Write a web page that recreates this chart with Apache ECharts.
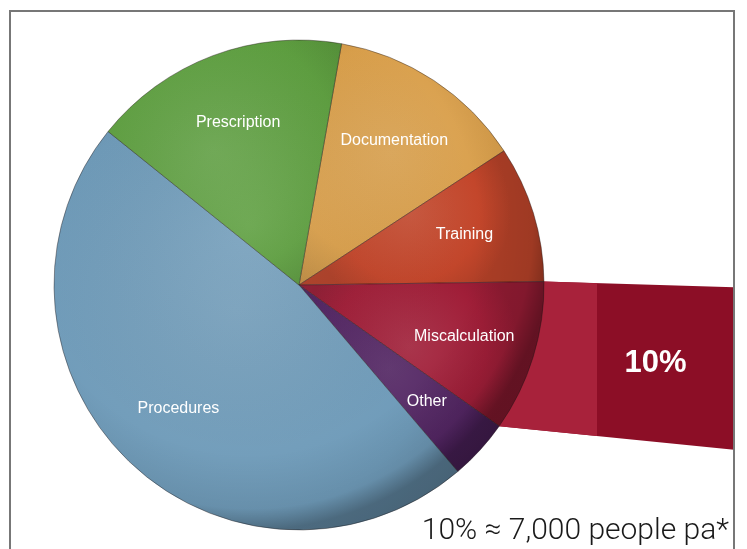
<!DOCTYPE html>
<html>
<head>
<meta charset="utf-8">
<script src="https://cdn.jsdelivr.net/npm/echarts@6/dist/echarts.min.js"></script>
<style>
  html, body { margin: 0; padding: 0; background: #ffffff; }
  #chart { width: 747px; height: 549px; }
</style>
</head>
<body>
<div id="chart"></div>
<script>
// Causes of medication errors, share of all reported errors (%)
const categories = ['Documentation', 'Training', 'Miscalculation', 'Other', 'Procedures', 'Prescription'];
const shares = [13, 9, 10, 4, 47, 17];
const sliceColors = ['#d99f4b', '#c3462b', '#a01e38', '#512361', '#6f9bb9', '#5e9f40'];
const highlightName = 'Miscalculation';
const footnote = '10% \u2248 7,000 people pa*';

const W = 747, H = 549;
const cx = 299, cy = 285, R = 245;
const startAngle = 80;          // degrees, counter-clockwise from 3 o'clock
const labelRadius = 170;
const frameLeft = 10, frameTop = 11, frameRight = 734;
const FONT = '"Liberation Sans", Arial, Helvetica, sans-serif';

function shade(hex, f) {
  const n = parseInt(hex.slice(1), 16);
  let r = (n >> 16) & 255, g = (n >> 8) & 255, b = n & 255;
  const t = f < 0 ? 0 : 255, p = Math.abs(f);
  r = Math.round((t - r) * p + r); g = Math.round((t - g) * p + g); b = Math.round((t - b) * p + b);
  return 'rgb(' + r + ',' + g + ',' + b + ')';
}
function sliceFill(hex) {
  return {
    type: 'radial', x: 0.45, y: 0.45, r: 0.75,
    colorStops: [
      { offset: 0, color: shade(hex, 0.1) },
      { offset: 0.7, color: hex },
      { offset: 1, color: shade(hex, -0.12) }
    ]
  };
}

// Geometry of the highlighted slice, from the pie's own angle layout
const total = shares.reduce((a, b) => a + b, 0);
const hi = categories.indexOf(highlightName);
const before = shares.slice(0, hi).reduce((a, b) => a + b, 0);
const aStart = (startAngle - before / total * 360) * Math.PI / 180;
const aEnd = (startAngle - (before + shares[hi]) / total * 360) * Math.PI / 180;
const p1 = [cx + R * Math.cos(aStart), cy - R * Math.sin(aStart)];
const p4 = [cx + R * Math.cos(aEnd), cy - R * Math.sin(aEnd)];
const topAt = x => p1[1] + 0.03 * (x - p1[0]);
const botAt = x => p4[1] + 0.1 * (x - p4[0]);
const splitX = 597;
const calloutText = Math.round(shares[hi] / total * 100) + '%';
const textX = (splitX + frameRight) / 2 - 10;
const textY = (topAt(textX) + botAt(textX)) / 2;

const chart = echarts.init(document.getElementById('chart'), null, { renderer: 'canvas' });

chart.setOption({
  backgroundColor: '#ffffff',
  animation: false,
  graphic: [
    // callout band coming out of the highlighted slice
    { type: 'polygon', z: 0, silent: true,
      shape: { points: [p1, [frameRight, topAt(frameRight)], [frameRight, botAt(frameRight)], p4] },
      style: { fill: '#8c0e26' } },
    { type: 'polygon', z: 0, silent: true,
      shape: { points: [p1, [splitX, topAt(splitX)], [splitX, botAt(splitX)], p4] },
      style: { fill: '#a8223b' } },
    // soft lighting over the disc
    { type: 'circle', z: 2.5, silent: true,
      shape: { cx: cx, cy: cy, r: R },
      style: { fill: { type: 'radial', x: 0.4, y: 0.38, r: 0.62,
        colorStops: [
          { offset: 0, color: 'rgba(255,255,255,0.08)' },
          { offset: 0.75, color: 'rgba(0,0,0,0)' },
          { offset: 0.93, color: 'rgba(0,0,0,0.08)' },
          { offset: 1, color: 'rgba(0,0,0,0.3)' }
        ] } } },
    { type: 'text', z: 5, silent: true, x: textX, y: textY,
      style: { text: calloutText, fill: '#ffffff', font: 'bold 31px ' + FONT,
               textAlign: 'center', textVerticalAlign: 'middle' } },
    { type: 'text', z: 5, silent: true, x: 729, y: 546,
      style: { text: footnote, fill: '#1a1a1a', font: '300 30px Roboto, ' + FONT,
               textAlign: 'right', textVerticalAlign: 'bottom' } },
    { type: 'polyline', z: 6, silent: true,
      shape: { points: [[frameLeft, H], [frameLeft, frameTop], [frameRight, frameTop], [frameRight, H]] },
      style: { stroke: '#777777', lineWidth: 2, fill: null } }
  ],
  series: [
    {
      type: 'pie',
      z: 2,
      center: [cx, cy],
      radius: [0, R],
      startAngle: startAngle,
      clockwise: true,
      silent: true,
      label: { show: false },
      labelLine: { show: false },
      itemStyle: { borderColor: 'rgba(30,20,20,0.4)', borderWidth: 1 },
      data: categories.map((name, i) => ({
        name: name, value: shares[i],
        itemStyle: { color: sliceFill(sliceColors[i]) }
      }))
    },
    {
      type: 'pie',
      z: 3,
      center: [cx, cy],
      radius: [0, labelRadius * 2],
      startAngle: startAngle,
      clockwise: true,
      silent: true,
      itemStyle: { color: 'rgba(0,0,0,0)', borderWidth: 0 },
      labelLine: { show: false },
      label: {
        show: true, position: 'inside', formatter: '{b}',
        color: '#ffffff', fontSize: 16, fontFamily: FONT
      },
      data: categories.map((name, i) => ({ name: name, value: shares[i] }))
    }
  ]
});
</script>
</body>
</html>
